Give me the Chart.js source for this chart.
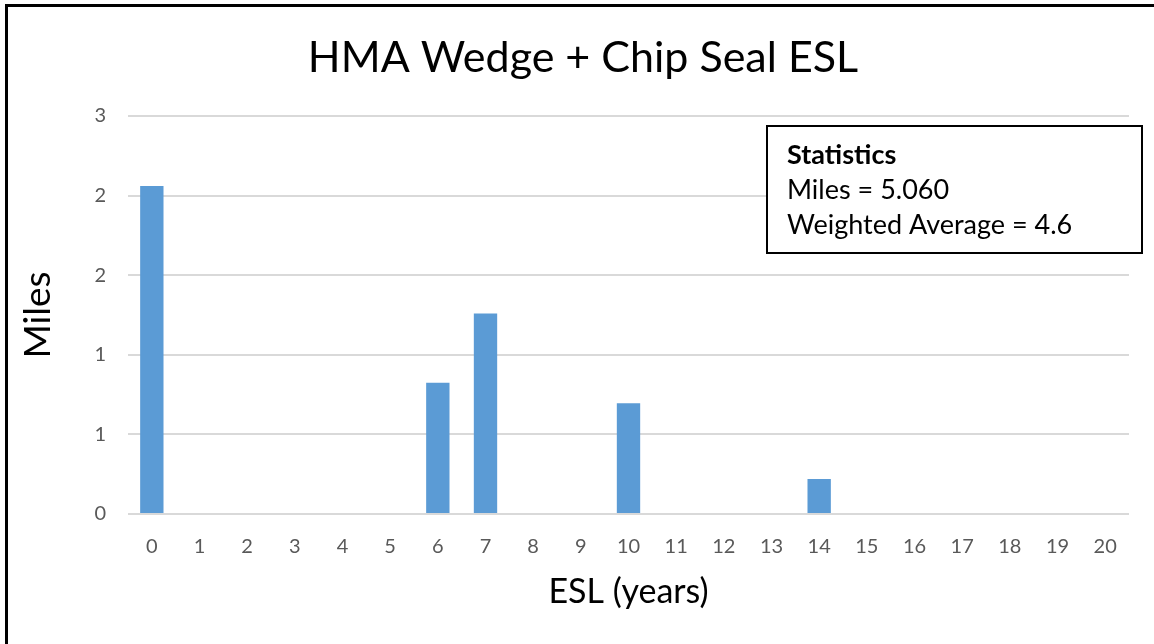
<!DOCTYPE html>
<html>
<head>
<meta charset="utf-8">
<script src="https://cdn.jsdelivr.net/npm/chart.js@4.4.1/dist/chart.umd.min.js"></script>
<style>
    html, body { margin: 0; padding: 0; background: #fff; overflow: hidden; }
    #wrap { position: relative; width: 1154px; height: 644px; }
    #frame {
        position: absolute; left: 5px; top: 4px; width: 1200px; height: 700px;
        border-top: 3px solid #000; border-left: 3px solid #000; pointer-events: none;
    }
</style>
</head>
<body>
<div id="wrap">
    <canvas id="eslChart" width="1154" height="644"></canvas>
    <div id="frame"></div>
</div>
<script>
// Chart data
const eslYears = ['0', '1', '2', '3', '4', '5', '6', '7', '8', '9', '10',
    '11', '12', '13', '14', '15', '16', '17', '18', '19', '20'];
const miles = [2.06, 0, 0, 0, 0, 0, 0.825, 1.26, 0, 0, 0.695,
    0, 0, 0, 0.22, 0, 0, 0, 0, 0, 0];
const chartTitle = 'HMA Wedge + Chip Seal ESL';
const statsLines = ['Statistics', 'Miles = 5.060', 'Weighted Average = 4.6'];

const FONT = 'Lato, "Open Sans", sans-serif';

// Title and statistics text box
const overlay = {
    id: 'overlay',
    afterDraw(chart) {
        const ctx = chart.ctx;
        ctx.save();
        // title
        ctx.fillStyle = '#000';
        ctx.textAlign = 'center';
        ctx.textBaseline = 'middle';
        ctx.font = '43px ' + FONT;
        ctx.fillText(chartTitle, 583, 58);

        // statistics box
        ctx.fillStyle = '#fff';
        ctx.fillRect(767, 126, 375, 127);
        ctx.strokeStyle = '#000';
        ctx.lineWidth = 2;
        ctx.strokeRect(767, 126, 375, 127);
        ctx.fillStyle = '#000';
        ctx.textAlign = 'left';
        const ys = [155, 190, 225];
        statsLines.forEach((line, i) => {
            ctx.font = (i === 0 ? 'bold ' : '') + '27px ' + FONT;
            ctx.fillText(line, 787, ys[i]);
        });
        ctx.restore();
    }
};

new Chart(document.getElementById('eslChart'), {
    type: 'bar',
    data: {
        labels: eslYears,
        datasets: [{
            label: 'Miles',
            data: miles,
            backgroundColor: '#5B9BD5',
            borderWidth: 0,
            categoryPercentage: 1,
            barPercentage: 0.49
        }]
    },
    options: {
        responsive: false,
        animation: false,
        layout: { padding: { top: 116, right: 25, bottom: 0, left: 0 } },
        plugins: {
            legend: { display: false },
            tooltip: { enabled: false },
            title: { display: false }
        },
        scales: {
            x: {
                grid: { display: false },
                border: { display: false },
                ticks: { color: '#595959', font: { family: FONT, size: 20 }, padding: 13, maxRotation: 0, autoSkip: false },
                title: {
                    display: true,
                    text: 'ESL (years)',
                    color: '#000',
                    font: { family: FONT, size: 34, lineHeight: 1.2 },
                    padding: { top: 0, bottom: 32 }
                },
                afterFit(scale) { scale.height = 130; }
            },
            y: {
                min: 0,
                max: 2.5,
                grid: { color: '#D9D9D9', lineWidth: 2, drawTicks: false },
                border: { display: false },
                ticks: {
                    stepSize: 0.5,
                    color: '#595959',
                    font: { family: FONT, size: 20 },
                    padding: 22,
                    callback: (v) => Math.round(v)
                },
                title: {
                    display: true,
                    text: 'Miles',
                    color: '#000',
                    font: { family: FONT, size: 37, lineHeight: 1.2 },
                    padding: { top: 16, bottom: 0 }
                },
                afterFit(scale) { scale.width = 128; }
            }
        }
    },
    plugins: [overlay]
});
</script>
</body>
</html>
